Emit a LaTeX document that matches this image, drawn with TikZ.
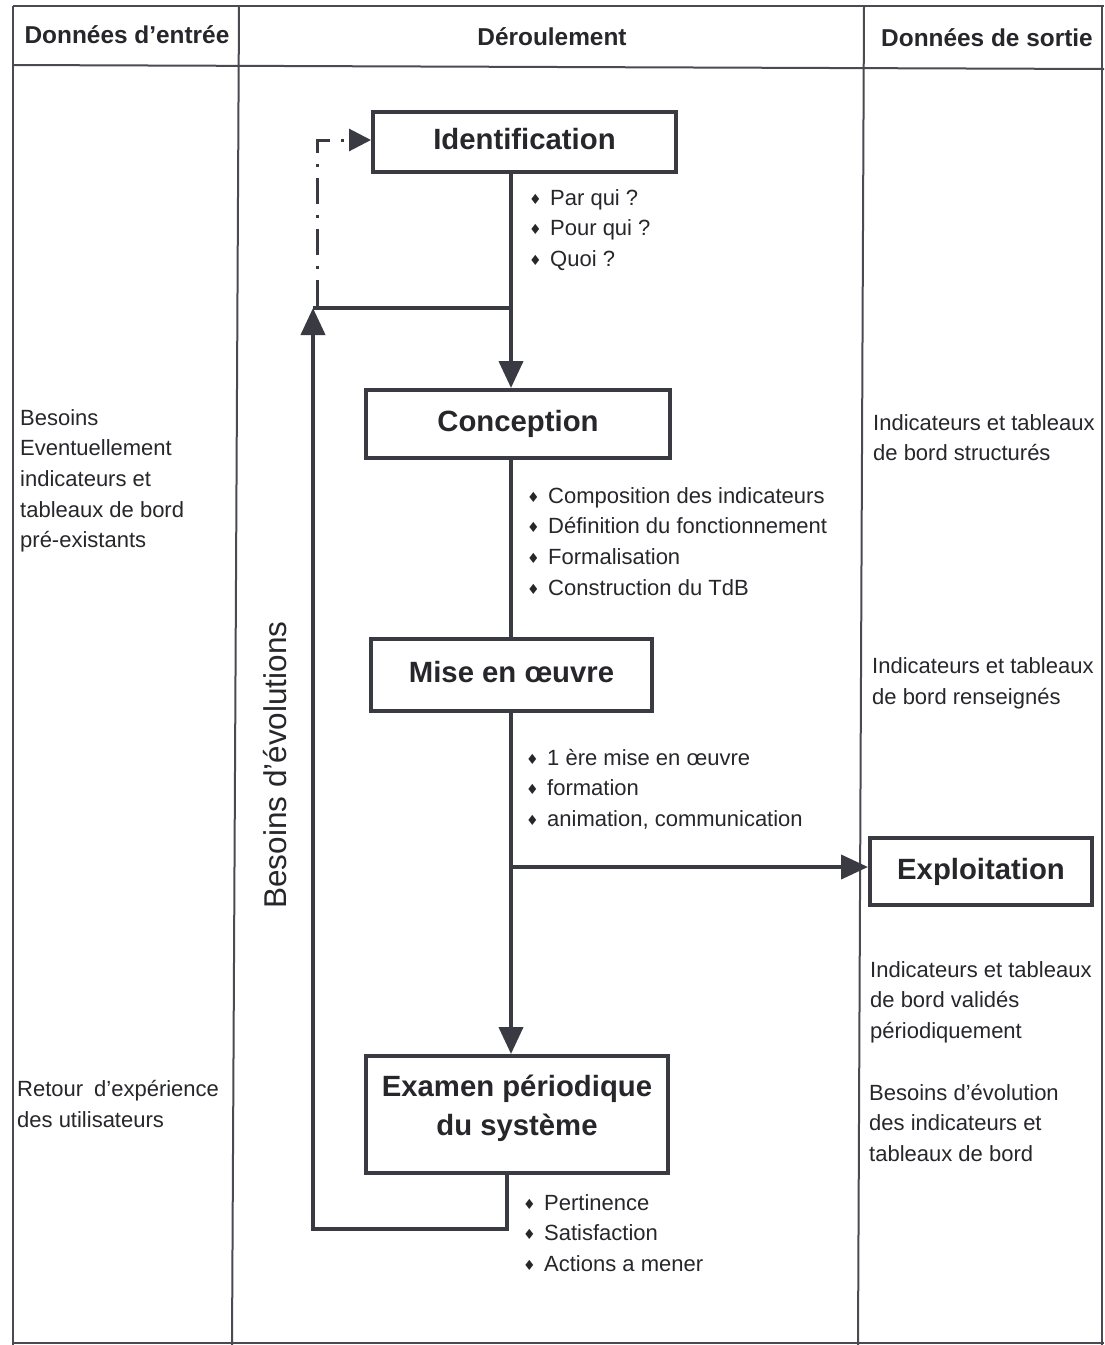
\documentclass[tikz,border=0pt]{standalone}
\usepackage{fontspec}
\setmainfont{Liberation Sans}
\newfontfamily\symfont{DejaVu Sans}
\usetikzlibrary{arrows.meta}

\definecolor{ink}{HTML}{26262B}
\definecolor{rulecol}{HTML}{4A4A50}
\definecolor{framecol}{HTML}{3A3A42}

% diamond bullet followed by a fixed indent
\newcommand\bul{\makebox[21pt][l]{\raisebox{1pt}{\symfont\fontsize{14}{14}\selectfont ♦}}}

\begin{document}
\begin{tikzpicture}[x=1pt,y=-1pt,
  every node/.style={inner sep=0pt, text=ink},
  headtxt/.style={font=\fontsize{24.4}{28}\selectfont\bfseries, text height=18pt, text depth=5pt},
  body/.style={font=\fontsize{22}{26}\selectfont, anchor=base west},
  stage/.style={draw=framecol, line width=4pt, font=\fontsize{29.3}{39}\selectfont\bfseries,
                text height=21pt, text depth=6pt},
  flow/.style={draw=framecol, line width=4pt},
  tip/.style={-{Triangle[length=27pt,width=24pt]}},
  grid/.style={draw=rulecol, line width=2pt}
]
\useasboundingbox[fill=white] (0,0) rectangle (1104,1345);

% table frame and column rules
\draw[grid] (13,6) -- (1104,6);
\draw[grid] (13,6) -- (13,1345);
\draw[grid] (13,65) -- (1104,69);
\draw[grid] (239,6) -- (232,1345);
\draw[grid] (864,6) -- (858,1345);
\draw[grid] (1102,6) -- (1102,1345);
\draw[grid] (13,1343) -- (1104,1343);

% column headings
\node[headtxt] (hin)  at (127,37) {Données d'entrée};
\node[headtxt] (hrun) at (552,39) {Déroulement};
\node[headtxt] (hout) at (987,40) {Données de sortie};

% process stages
\node[stage, minimum width=303pt, minimum height=60pt] (ident) at (524.5,142) {Identification};
\node[stage, minimum width=304pt, minimum height=68pt] (concep) at (518,424) {Conception};
\node[stage, minimum width=281pt, minimum height=72pt] (mise) at (511.5,675) {Mise en œuvre};
\node[stage, minimum width=222pt, minimum height=67pt] (exploit) at (981,871.5) {Exploitation};
\node[stage, minimum width=302pt, minimum height=117pt, align=center,
      text height=, text depth=] (exam) at (517,1114.5)
      {Examen périodique\\du système\rule[-18pt]{0pt}{18pt}};

% spine and loop reference points
\coordinate (spine) at (511,0);
\coordinate (branch) at (511,867);
\coordinate (join) at (511,308);
\coordinate (drop) at (507,0);
\coordinate (loopbot) at (507,1229);
\coordinate (loopleft) at (313,1229);
\coordinate (looptop) at (313,308);
\coordinate (dashtop) at (317,140);

% main flow
\draw[flow, tip] (ident.south -| spine) -- (concep.north -| spine);
\draw[flow] (concep.south -| spine) -- (mise.north -| spine);
\draw[flow, tip] (mise.south -| spine) -- (exam.north -| spine);
\draw[flow, tip] (branch) -- (exploit.west |- branch);

% feedback loop
\draw[flow, tip, line join=miter] (exam.south -| drop) -- (loopbot) -- (loopleft) -- (looptop);
\draw[flow] (looptop) -- (join);
\draw[draw=framecol, line width=3pt, dash pattern=on 26pt off 11pt on 3pt off 11pt,
      -{Triangle[length=22pt,width=22pt]}]
  (317,306) -- (dashtop) -- (ident.west |- dashtop);

% side label of the loop
\node[font=\fontsize{31.5}{36}\selectfont, rotate=90] (evol) at (275,765) {Besoins d'évolutions};

% bullet lists of each stage
\foreach \t [count=\i] in {Par qui ?, Pour qui ?, Quoi ?}
  \node[body] (lid\i) at (529,205+30.5*\i-30.5) {\bul\t};
\foreach \t [count=\i] in {Composition des indicateurs, Définition du fonctionnement, Formalisation, Construction du TdB}
  \node[body] (lco\i) at (527,503+30.7*\i-30.7) {\bul\t};
\foreach \t [count=\i] in {1 ère mise en œuvre, formation, {animation, communication}}
  \node[body] (lmi\i) at (526,765+30.8*\i-30.8) {\bul\t};
\foreach \t [count=\i] in {Pertinence, Satisfaction, Actions a mener}
  \node[body] (lex\i) at (523,1210+30.8*\i-30.8) {\bul\t};

% input column
\foreach \t [count=\i] in {Besoins, Eventuellement, indicateurs et, tableaux de bord, pré-existants}
  \node[body] (in\i) at (20,425+30.7*\i-30.7) {\t};
\node[body] (inr1) at (17,1096) {Retour\hspace{11pt}d'expérience};
\node[body] (inr2) at (17,1127) {des utilisateurs};

% output column
\node[body] (out1) at (873,430) {Indicateurs et tableaux};
\node[body] (out2) at (873,460.5) {de bord structurés};
\node[body] (out3) at (872,673) {Indicateurs et tableaux};
\node[body] (out4) at (872,704) {de bord renseignés};
\foreach \t [count=\i] in {Indicateurs et tableaux, de bord validés, périodiquement}
  \node[body] (outv\i) at (870,977+30.8*\i-30.8) {\t};
\foreach \t [count=\i] in {Besoins d'évolution, des indicateurs et, tableaux de bord}
  \node[body] (oute\i) at (869,1100+30.8*\i-30.8) {\t};
\end{tikzpicture}
\end{document}
